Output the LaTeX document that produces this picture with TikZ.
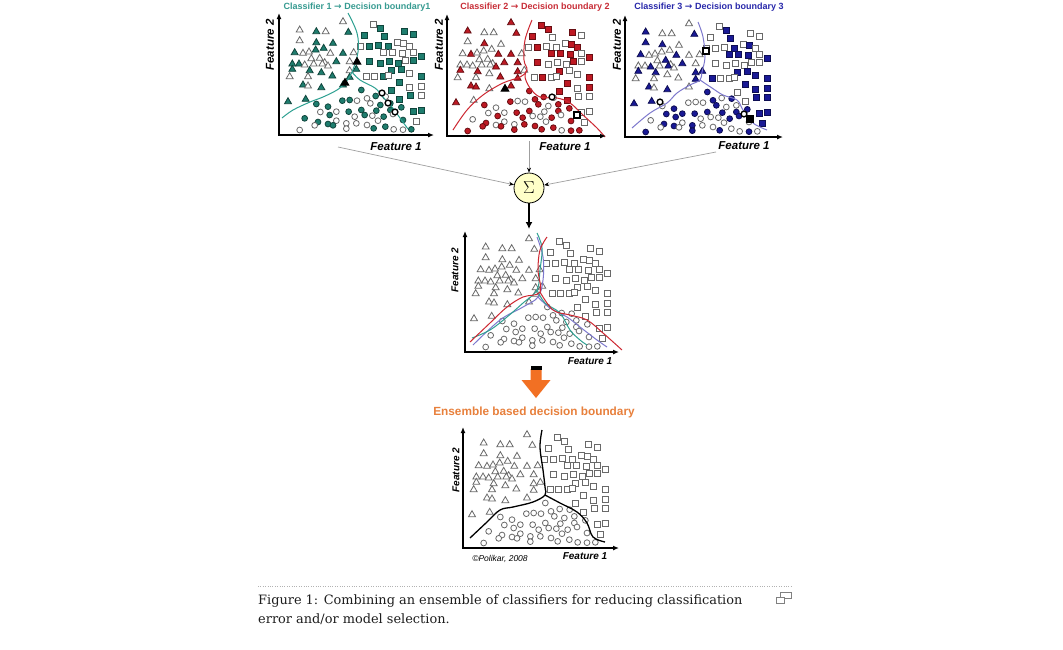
\documentclass[tikz,border=0pt]{standalone}
\usepackage{fontspec}
\setmainfont{DejaVu Serif}
\setsansfont{Liberation Sans}
\newfontfamily\arrowfont{DejaVu Sans}
\usetikzlibrary{arrows.meta,shapes.geometric}

\definecolor{tealc}{RGB}{30,125,110}
\definecolor{tealt}{RGB}{55,155,145}
\definecolor{tealline}{RGB}{45,160,145}
\definecolor{redc}{RGB}{190,25,35}
\definecolor{redt}{RGB}{200,45,55}
\definecolor{redline}{RGB}{205,40,50}
\definecolor{bluec}{RGB}{25,25,150}
\definecolor{bluet}{RGB}{40,40,170}
\definecolor{blueline}{RGB}{125,120,205}
\definecolor{mk}{RGB}{105,105,105}
\definecolor{sumfill}{RGB}{255,255,200}
\definecolor{orng}{RGB}{242,112,35}
\definecolor{orngtext}{RGB}{232,128,60}
\definecolor{captext}{RGB}{30,30,30}

\newcommand\arr{{\arrowfont\bfseries →}}

% sample points, in 1/3 px from the panel frame
\def\tripts{320/225,190/250,240/255,268/255,336/257,190/282,240/288,290/290,
  175/318,200/320,218/316,238/310,262/305,282/320,320/320,352/318,
  225/336,250/335,265/348,168/352,188/352,205/355,232/352,258/352,275/358,
  300/345,340/345,168/368,220/372,255/378,340/372,360/368,160/390,215/390,
  288/388,340/392,200/415,215/418,255/423,320/415,155/465,208/458}
\def\sqpts{410/232,432/246,505/255,532/262,385/265,445/268,373/298,400/298,
  427/296,455/298,482/288,500/290,520/298,440/318,467/318,497/320,530/318,
  555/328,398/345,432/350,460/345,487/350,507/340,530/340,465/372,495/368,
  520/380,390/390,415/390,440/390,455/385,555/390,488/408,518/422,555/418,
  465/432,522/445,555/445,490/458,555/492,530/495,540/525}
\def\cirpts{375/430,318/462,340/460,362/462,392/455,418/448,448/450,240/472,
  275/480,402/470,432/475,462/470,252/496,300/495,337/495,375/490,420/492,
  462/490,495/482,280/505,355/510,385/505,408/507,442/510,470/502,205/515,
  300/522,245/526,275/532,330/530,360/530,392/535,425/522,500/520,190/550,
  235/536,290/536,330/546,412/545,447/540,472/548,500/549,525/548}

\newcommand\pickfill[2]{%
  \pgfmathtruncatemacro\k{rnd<#2}%
  \ifnum\k=1 \def\fc{#1}\def\dc{#1!55!black}\else\def\fc{white}\def\dc{mk}\fi}

% #1 name, #2,#3 axis corner, #4 colour, #5 share filled, #6 seed
\newcommand\scatterpts[6]{%
  \pgfmathsetseed{#6}%
  \begin{scope}[shift={(#2,#3)}, scale=1/3, shift={(-128,-565)}]
    \foreach \x/\y [count=\i] in \tripts
      {\pickfill{#4}{#5}\node[tri, fill=\fc, draw=\dc] (#1tr\i) at (\x,\y) {};}
    \foreach \x/\y [count=\i] in \sqpts
      {\pickfill{#4}{#5}\node[box, fill=\fc, draw=\dc] (#1sq\i) at (\x,\y) {};}
    \foreach \x/\y [count=\i] in \cirpts
      {\pickfill{#4}{#5}\node[ring, fill=\fc, draw=\dc] (#1ci\i) at (\x,\y) {};}
  \end{scope}}

\begin{document}
\begin{tikzpicture}[x=1pt, y=-1pt,
    axis/.style={line width=1.6pt, {Latex[length=6pt,width=5pt]}-{Latex[length=6pt,width=5pt]}},
    tri/.style={regular polygon, regular polygon sides=3, inner sep=0pt, minimum size=8pt, line width=0.8pt},
    box/.style={rectangle, inner sep=0pt, minimum size=5.8pt, line width=0.8pt},
    ring/.style={circle, inner sep=0pt, minimum size=5.8pt, line width=0.8pt},
    miss/.style={draw=black, line width=1.4pt},
    bnd/.style={line width=1pt},
    feat/.style={font=\sffamily\bfseries\itshape\fontsize{11.5}{13}\selectfont},
    featsm/.style={font=\sffamily\bfseries\itshape\fontsize{10}{12}\selectfont},
    ttl/.style={font=\sffamily\bfseries\fontsize{9}{11}\selectfont},
    feed/.style={draw=gray!75, line width=0.7pt, -{Stealth[length=5pt,width=4pt,color=black]}}]

  \useasboundingbox (0,0) rectangle (1063,649);
  \fill[white] (0,0) rectangle (1063,649);

  % classifier 1
  \scatterpts{a}{279}{135}{tealc}{0.5}{11}
  \draw[bnd, tealline] plot[smooth, tension=0.6] coordinates {(348,13) (357,33) (358,52) (352,72) (345,83) (337,90) (323,97) (310,102) (293,110) (282,118)};
  \draw[bnd, tealline] plot[smooth, tension=0.6] coordinates {(352,72) (360,80) (375,88) (382,96) (392,107) (400,118) (408,129)};
  \node[tri, miss, fill=black] (a1) at (357,62) {};
  \node[tri, miss, fill=black] (a2) at (345,83) {};
  \node[ring, miss, fill=white] (a3) at (382,93) {};
  \node[ring, miss, fill=white] (a4) at (388,103) {};
  \node[ring, miss, fill=white] (a5) at (395,112) {};
  \draw[axis] (279,13) -- (279,135) -- (434,135);
  \node[ttl, text=tealt] (t1) at (357,7) {Classifier 1 \arr{} Decision boundary1};
  \node[feat] (ax1) at (396,147) {Feature 1};
  \node[feat, rotate=90] (ay1) at (270,45) {Feature 2};

  % classifier 2
  \scatterpts{b}{447}{136}{redc}{0.5}{23}
  \draw[bnd, redline] plot[smooth, tension=0.6] coordinates {(532,20) (525,40) (524,60) (527,70) (520,77) (503,83) (483,95) (467,110) (453,130)};
  \draw[bnd, redline] plot[smooth, tension=0.6] coordinates {(527,70) (525,77) (530,88) (540,97) (557,98) (570,103) (583,115) (597,128) (605,137)};
  \node[tri, miss, fill=black] (b1) at (505,89) {};
  \node[ring, miss, fill=white] (b2) at (552,97) {};
  \node[box, miss, fill=white] (b3) at (577,115) {};
  \draw[axis] (447,14) -- (447,136) -- (606,136);
  \node[ttl, text=redt] (t2) at (535,7) {Classifier 2 \arr{} Decision boundary 2};
  \node[feat] (ax2) at (565,147) {Feature 1};
  \node[feat, rotate=90] (ay2) at (439,45) {Feature 2};

  % classifier 3
  \scatterpts{c}{625}{137}{bluec}{0.5}{37}
  \draw[bnd, blueline] plot[smooth, tension=0.6] coordinates {(698,22) (703,37) (705,57) (702,72) (700,80) (690,85) (677,93) (667,103) (650,113) (632,128)};
  \draw[bnd, blueline] plot[smooth, tension=0.6] coordinates {(700,80) (712,88) (723,95) (737,100) (743,110) (753,123) (767,130)};
  \node[box, miss, fill=white] (c1) at (706,51) {};
  \node[box, miss, fill=black] (c2) at (750,119) {};
  \node[ring, miss, fill=white] (c3) at (660,102) {};
  \node[ring, miss, fill=white] (c4) at (744,114) {};
  \draw[axis] (625,15) -- (625,137) -- (783,137);
  \node[ttl, text=bluet] (t3) at (709,7) {Classifier 3 \arr{} Decision boundary 3};
  \node[feat] (ax3) at (744,146) {Feature 1};
  \node[feat, rotate=90] (ay3) at (617,45) {Feature 2};

  % combiner
  \node[circle, draw, fill=sumfill, minimum size=30pt, inner sep=0pt, line width=0.8pt] (sum) at (529,188) {\fontsize{17}{17}\selectfont$\Sigma$};
  \coordinate (o1) at (338,147);
  \coordinate (o2) at (529,141);
  \coordinate (o3) at (716,152);
  \coordinate (min) at (529,229);
  \draw[feed] (o1) -- (sum);
  \draw[feed] (o2) -- (sum);
  \draw[feed] (o3) -- (sum);
  \draw[line width=1.8pt, -{Latex[length=7pt,width=7pt]}] (sum) -- (min);

  % all three boundaries
  \scatterpts{m}{465}{352}{white}{0}{1}
  \draw[bnd, blueline] plot[smooth, tension=0.6] coordinates {(537,237) (543,257) (543,280) (538,297) (523,307) (500,320) (473,345)};
  \draw[bnd, blueline] plot[smooth, tension=0.6] coordinates {(538,297) (550,308) (567,317) (580,327) (597,340) (607,347)};
  \draw[bnd, tealline] plot[smooth, tension=0.6] coordinates {(537,233) (542,248) (540,270) (537,290) (523,303) (507,317) (490,330) (472,338)};
  \draw[bnd, tealline] plot[smooth, tension=0.6] coordinates {(537,290) (545,303) (560,313) (570,330) (580,340) (587,345)};
  \draw[bnd, redline] plot[smooth, tension=0.6] coordinates {(547,237) (540,250) (538,270) (540,292) (523,297) (507,307) (490,323) (470,342)};
  \draw[bnd, redline] plot[smooth, tension=0.6] coordinates {(540,292) (553,310) (570,315) (587,320) (603,333) (622,350)};
  \draw[axis] (465,231) -- (465,352) -- (619,352);
  \node[featsm] (axm) at (590,361) {Feature 1};
  \node[featsm, rotate=90] (aym) at (455,270) {Feature 2};

  % ensemble
  \fill[orng] (530.5,369) -- (541.5,369) -- (541.5,380) -- (550.5,380) -- (536,398) -- (521.5,380) -- (530.5,380) -- cycle;
  \fill[black] (530.5,366) rectangle (541.5,370);
  \node[font=\sffamily\bfseries\fontsize{11.8}{14}\selectfont, text=orngtext] (ens) at (534,412) {Ensemble based decision boundary};

  \scatterpts{e}{463}{548}{white}{0}{1}
  \draw[line width=1.3pt] plot[smooth, tension=0.6] coordinates {(542,430) (540,447) (543,470) (545,487) (545,495) (533,502) (513,507) (500,510) (487,522) (470,538)};
  \draw[line width=1.3pt] plot[smooth, tension=0.6] coordinates {(545,495) (560,503) (577,512) (587,523) (593,537) (605,542)};
  \draw[axis] (463,427) -- (463,548) -- (619,548);
  \node[featsm] (axe) at (585,556) {Feature 1};
  \node[featsm, rotate=90] (aye) at (456,470) {Feature 2};
  \node[font=\sffamily\itshape\fontsize{8.5}{10}\selectfont] (cpy) at (500,559) {©Polikar, 2008};

  % caption
  \draw[gray!60, dotted] (258,586) -- (792,586);
  \node[anchor=base west, text=captext, font=\fontsize{12.9}{15}\selectfont, inner sep=0pt] (cap1) at (258,604) {Figure 1: Combining an ensemble of classifiers for reducing classification};
  \node[anchor=base west, text=captext, font=\fontsize{12.9}{15}\selectfont, inner sep=0pt] (cap2) at (258,623) {error and/or model selection.};
  \draw[gray, line width=0.8pt] (776,597) rectangle (784,603);
  \draw[gray, line width=0.8pt] (780,597) -- (780,592) -- (791,592) -- (791,598) -- (784,598);
\end{tikzpicture}
\end{document}
